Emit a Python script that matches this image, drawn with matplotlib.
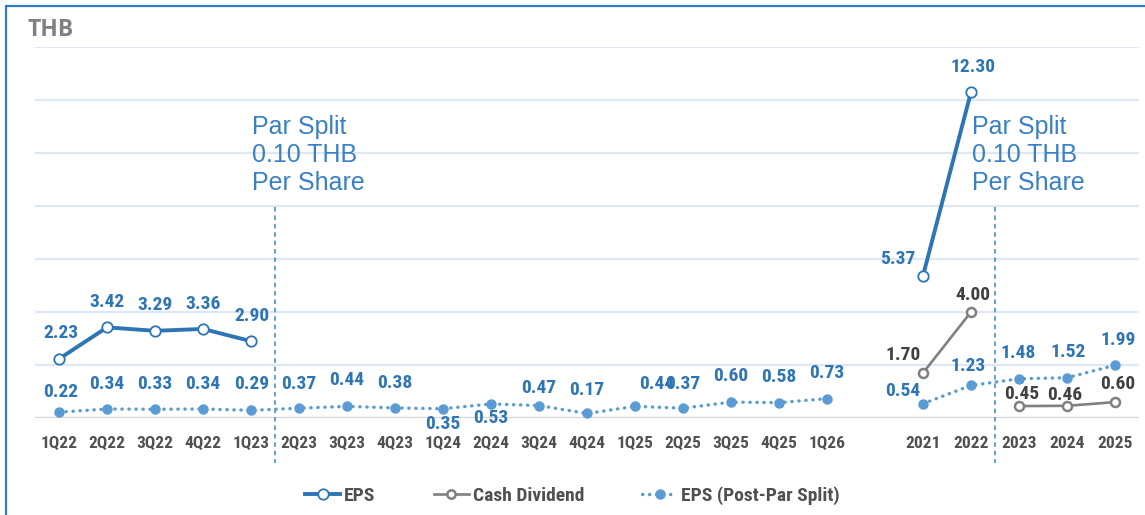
import numpy as np
import matplotlib
matplotlib.use("Agg")
import matplotlib.pyplot as plt
from matplotlib import font_manager as fm
from matplotlib.lines import Line2D
from matplotlib.patches import Rectangle

# ---------------- data ----------------
categories = ["1Q22", "2Q22", "3Q22", "4Q22", "1Q23", "2Q23", "3Q23", "4Q23",
              "1Q24", "2Q24", "3Q24", "4Q24", "1Q25", "2Q25", "3Q25", "4Q25",
              "1Q26", "", "2021", "2022", "2023", "2024", "2025"]
nan = np.nan
eps = [2.23, 3.42, 3.29, 3.36, 2.90] + [nan] * 12 + [nan] + [5.37, 12.30, nan, nan, nan]
cash_dividend = [nan] * 17 + [nan] + [1.70, 4.00, 0.45, 0.46, 0.60]
eps_post_split = [0.22, 0.34, 0.33, 0.34, 0.29, 0.37, 0.44, 0.38, 0.35, 0.53,
                  0.47, 0.17, 0.44, 0.37, 0.60, 0.58, 0.73] + [nan] + \
                 [0.54, 1.23, 1.48, 1.52, 1.99]
split_positions = [4.5, 19.5]          # between 1Q23/2Q23 and 2022/2023
split_text = "Par Split\n0.10 THB\nPer Share"
unit_label = "THB"
legend_labels = ["EPS", "Cash Dividend", "EPS (Post-Par Split)"]

# ---------------- font choice (narrow bold if available) ----------------
def pick_narrow_bold():
    best = None
    for f in fm.fontManager.ttflist:
        nm = f.name.lower()
        st = str(f.stretch).lower()
        narrow = ("narrow" in nm or "condensed" in nm or
                  st in ("condensed", "semi-condensed", "extra-condensed"))
        try:
            w = int(f.weight)
        except Exception:
            w = 700 if "bold" in str(f.weight).lower() else 400
        if narrow and 600 <= w <= 800:
            score = 0 if "liberation" in nm else (1 if "roboto" in nm else 2)
            if best is None or score < best[0]:
                best = (score, f.fname)
    return best[1] if best else None


_narrow = pick_narrow_bold()
if _narrow:
    def NFP(size):
        return fm.FontProperties(fname=_narrow, size=size)
    LBL_SIZE, TICK_SIZE, LEG_SIZE = 14, 12.5, 14
else:
    def NFP(size):
        return fm.FontProperties(family=["Roboto", "DejaVu Sans"],
                                 weight="bold", size=size)
    LBL_SIZE, TICK_SIZE, LEG_SIZE = 12.5, 11.5, 12

# ---------------- styles ----------------
C_EPS = "#2e75b6"
C_POST = "#5b9bd5"
C_DIV = "#808080"
C_LBL_BLUE = "#2e75b6"
C_LBL_DIV = "#404040"
C_TICK = "#505050"
DOTS = (0, (0.1, 2.0))

# label offsets in pixels (dx, dy up) per point index
eps_off = {0: (2, 26), 1: (0, 25), 2: (0, 26), 3: (0, 25), 4: (1, 25),
           18: (-25, 17), 19: (2, 25)}
post_off = {0: (2, 20), 1: (0, 25), 2: (0, 25), 3: (0, 25), 4: (1, 26),
            5: (0, 24), 6: (0, 26), 7: (0, 25), 8: (0, -15), 9: (0, -14),
            10: (0, 18), 11: (0, 23), 12: (22, 22), 13: (0, 24), 14: (0, 26),
            15: (0, 26), 16: (0, 26), 18: (-20, 13), 19: (-3, 19),
            20: (-1, 26), 21: (1, 26), 22: (3, 25)}
div_off = {18: (-20, 18), 19: (2, 17), 20: (3, 12), 21: (-2, 11), 22: (3, 18)}

DPI = 100
fig = plt.figure(figsize=(11.45, 5.15), dpi=DPI)
W, H = 1145, 515
ax = fig.add_axes([35 / W, 97 / H, 1104 / W, 371 / H])

x = np.arange(len(categories))
ax.set_xlim(-0.5, len(categories) - 0.5)
ax.set_ylim(0, 14)

# gridlines
for g in np.arange(2, 15, 2):
    ax.axhline(g, color="#dde8f4", lw=1.6, zorder=0)
ax.axhline(0, color="#d4d4d4", lw=1.6, zorder=0)

for s in ax.spines.values():
    s.set_visible(False)
ax.set_yticks([])
ax.set_xticks(x)
ax.set_xticklabels(categories, color=C_TICK, fontproperties=NFP(TICK_SIZE))
ax.tick_params(axis="x", length=0, pad=13)

# series
eps_a = np.array(eps, dtype=float)
div_a = np.array(cash_dividend, dtype=float)
post_a = np.array(eps_post_split, dtype=float)

ax.plot(x, post_a, color=C_POST, lw=2.4, linestyle=DOTS,
        dash_capstyle="round", marker="o", ms=6.5, mfc=C_POST, mec=C_POST,
        zorder=3)
# dividend segments (pre split / post split not joined)
brk = int(np.ceil(split_positions[1]))
for seg in (slice(0, brk), slice(brk, len(categories))):
    ax.plot(x[seg], div_a[seg], color=C_DIV, lw=1.9, marker="o", ms=6.5,
            mfc="white", mec=C_DIV, mew=1.8, zorder=4)
ax.plot(x, eps_a, color=C_EPS, lw=2.8, marker="o", ms=7.5, mfc="white",
        mec=C_EPS, mew=1.3, zorder=5)

PX = 72.0 / DPI


def label(vals, offs, color):
    for i, v in enumerate(vals):
        if np.isnan(v):
            continue
        dx, dy = offs.get(i, (0, 24))
        ax.annotate(f"{v:.2f}", (x[i], v), xytext=(dx * PX, dy * PX),
                    textcoords="offset points", ha="center", va="center",
                    color=color, fontproperties=NFP(LBL_SIZE), zorder=6,
                    annotation_clip=False)


label(eps_a, eps_off, C_LBL_BLUE)
label(post_a, post_off, C_LBL_BLUE)
label(div_a, div_off, C_LBL_DIV)

# split markers
for sp in split_positions:
    ax.plot([sp, sp], [7.95, -1.68], color="#2f8ad6", lw=1.1,
            linestyle=(0, (3, 2.5)), clip_on=False, zorder=2)
    ax.text(sp - 0.47, 11.45, split_text, ha="left", va="top",
            fontsize=18, color="#3b80c6", family="Liberation Sans",
            linespacing=1.22, zorder=7)

# unit label
fig.text(27 / W, 1 - 30 / H, unit_label, ha="left", va="center",
         fontsize=16.5, fontweight="bold", color="#808080", family="Open Sans")

# frame
fig.patches.append(Rectangle((6 / W, -0.05), 1.2, 1 - 6 / H + 0.05,
                             transform=fig.transFigure, fill=False,
                             ec="#2e7dc6", lw=1.6))

# legend
handles = [
    Line2D([], [], color=C_EPS, lw=2.8, marker="o", ms=7.5, mfc="white",
           mec=C_EPS, mew=1.3),
    Line2D([], [], color=C_DIV, lw=1.9, marker="o", ms=6, mfc="white",
           mec=C_DIV, mew=1.8),
    Line2D([], [], color=C_POST, lw=2.4, linestyle=DOTS,
           dash_capstyle="round", marker="o", ms=6.5, mfc=C_POST, mec=C_POST),
]
fig.legend(handles, legend_labels,
           loc="center", bbox_to_anchor=(0.5, 19 / H), ncol=3, frameon=False,
           handlelength=1.8, handletextpad=0.2, columnspacing=3.0,
           prop=NFP(LEG_SIZE), labelcolor=C_TICK)

fig.savefig("out.png", dpi=DPI)
